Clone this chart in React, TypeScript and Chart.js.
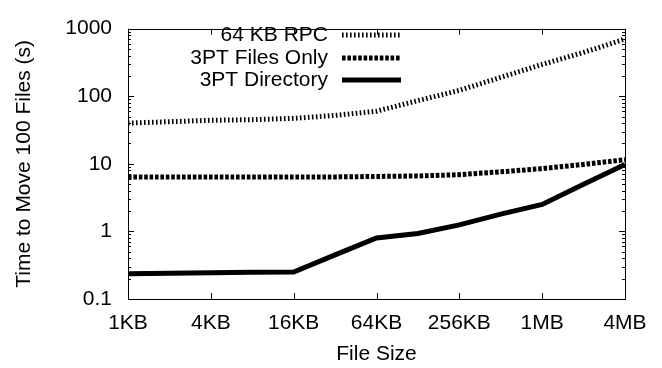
import React, { useEffect, useRef } from 'react';
import { Chart, registerables } from 'chart.js';

Chart.register(...registerables);

const fileSizeLabels = ['1KB', '2KB', '4KB', '8KB', '16KB', '32KB', '64KB', '128KB', '256KB', '512KB', '1MB', '2MB', '4MB'];
const xTickLabels = ['1KB', '4KB', '16KB', '64KB', '256KB', '1MB', '4MB'];
const yDecades = [0.1, 1, 10, 100, 1000];

const seriesNames = ['64 KB RPC', '3PT Files Only', '3PT Directory'];
const rpc64KB = [40, 42, 44, 45, 47, 52, 60, 86, 122, 190, 295, 445, 700];
const filesOnly = [6.4, 6.4, 6.4, 6.4, 6.4, 6.4, 6.5, 6.6, 6.9, 7.6, 8.5, 9.8, 11.5];
const directory = [0.237, 0.24, 0.245, 0.248, 0.25, 0.45, 0.8, 0.93, 1.25, 1.8, 2.5, 5.0, 9.8];

const FONT = { family: '"Liberation Sans", Arial, Helvetica, sans-serif', size: 21 };

const frameAndTicks = {
  id: 'frameAndTicks',
  beforeDatasetsDraw(chart: any) {
    const { ctx, chartArea: a, scales } = chart;
    const x = scales.x;
    const y = scales.y;
    ctx.save();
    ctx.strokeStyle = '#000';
    ctx.lineWidth = 1;
    ctx.beginPath();
    for (let d = 0; d < yDecades.length; d++) {
      const base = yDecades[d];
      for (let m = 1; m <= 9; m++) {
        const v = base * m;
        if (v > 1000.0001) break;
        const py = Math.round(y.getPixelForValue(v)) + 0.5;
        const len = m === 1 ? 6 : 3;
        ctx.moveTo(a.left, py);
        ctx.lineTo(a.left + len, py);
        ctx.moveTo(a.right, py);
        ctx.lineTo(a.right - len, py);
      }
    }
    for (let i = 0; i < xTickLabels.length; i++) {
      const px = Math.round(x.getPixelForValue(i * 2)) + 0.5;
      ctx.moveTo(px, a.bottom);
      ctx.lineTo(px, a.bottom - 6);
      ctx.moveTo(px, a.top);
      ctx.lineTo(px, a.top + 6);
    }
    ctx.stroke();
    ctx.strokeRect(Math.round(a.left) + 0.5, Math.round(a.top) + 0.5, Math.round(a.right - a.left), Math.round(a.bottom - a.top));
    ctx.restore();
  },
};

const lineLegend = {
  id: 'lineLegend',
  afterDatasetsDraw(chart: any) {
    const { ctx } = chart;
    const textRight = 328;
    const sx0 = 342;
    const sx1 = 401;
    const rows = [35, 58, 80];
    ctx.save();
    ctx.font = `${FONT.size}px ${FONT.family}`;
    ctx.fillStyle = '#000';
    ctx.textAlign = 'right';
    ctx.textBaseline = 'middle';
    chart.data.datasets.forEach((ds: any, i: number) => {
      const yy = rows[i];
      ctx.fillText(ds.label, textRight, yy);
      ctx.beginPath();
      ctx.strokeStyle = ds.borderColor;
      ctx.lineWidth = ds.borderWidth;
      ctx.lineCap = 'butt';
      ctx.setLineDash(ds.borderDash || []);
      ctx.moveTo(sx0, yy);
      ctx.lineTo(sx1, yy);
      ctx.stroke();
    });
    ctx.restore();
  },
};

function toPoints(values: number[]) {
  return values.map((v, i) => ({ x: i, y: v }));
}

export default function App() {
  const ref = useRef<HTMLCanvasElement | null>(null);
  useEffect(() => {
    document.body.style.margin = '0';
    const canvas = ref.current;
    if (!canvas) return;
    const chart = new Chart(canvas, {
      type: 'line',
      data: {
        labels: fileSizeLabels,
        datasets: [
          {
            label: seriesNames[0],
            data: toPoints(rpc64KB),
            borderColor: '#000',
            borderWidth: 5,
            borderDash: [1.6, 2.4],
            pointRadius: 0,
            tension: 0,
            fill: false,
          },
          {
            label: seriesNames[1],
            data: toPoints(filesOnly),
            borderColor: '#000',
            borderWidth: 5,
            borderDash: [3.6, 1.8],
            pointRadius: 0,
            tension: 0,
            fill: false,
          },
          {
            label: seriesNames[2],
            data: toPoints(directory),
            borderColor: '#000',
            borderWidth: 5,
            pointRadius: 0,
            tension: 0,
            fill: false,
          },
        ],
      },
      options: {
        animation: false,
        responsive: false,
        devicePixelRatio: 1,
        events: [],
        layout: { padding: { left: 0, right: 37, top: 18, bottom: 0 } },
        plugins: { legend: { display: false }, tooltip: { enabled: false } },
        scales: {
          x: {
            type: 'linear',
            min: 0,
            max: 12,
            border: { display: false },
            grid: { display: false, drawTicks: false },
            ticks: {
              stepSize: 2,
              autoSkip: false,
              maxRotation: 0,
              color: '#000',
              font: FONT,
              padding: 12,
              callback: (v: any) => {
                const idx = Math.round(Number(v) / 2);
                return Math.abs(Number(v) / 2 - idx) < 1e-6 ? xTickLabels[idx] ?? '' : '';
              },
            },
            title: { display: true, text: 'File Size', color: '#000', font: FONT, padding: { top: 0, bottom: 1 } },
            afterFit: (s: any) => {
              s.height = 69;
            },
          },
          y: {
            type: 'logarithmic',
            min: 0.1,
            max: 1000,
            border: { display: false },
            grid: { display: false, drawTicks: false },
            ticks: {
              autoSkip: false,
              color: '#000',
              font: FONT,
              padding: 16,
              callback: (v: any) => {
                const n = Number(v);
                const l = Math.log10(n);
                if (Math.abs(l - Math.round(l)) > 1e-6) return '';
                return n < 1 ? '0.1' : String(Math.round(n));
              },
            },
            title: { display: true, text: 'Time to Move 100 Files (s)', color: '#000', font: FONT, padding: { top: 12, bottom: 0 } },
            afterFit: (s: any) => {
              s.width = 128;
            },
          },
        },
      },
      plugins: [frameAndTicks, lineLegend],
    });
    return () => chart.destroy();
  }, []);
  return <canvas ref={ref} width={662} height={368} style={{ display: 'block', width: 662, height: 368 }} />;
}
